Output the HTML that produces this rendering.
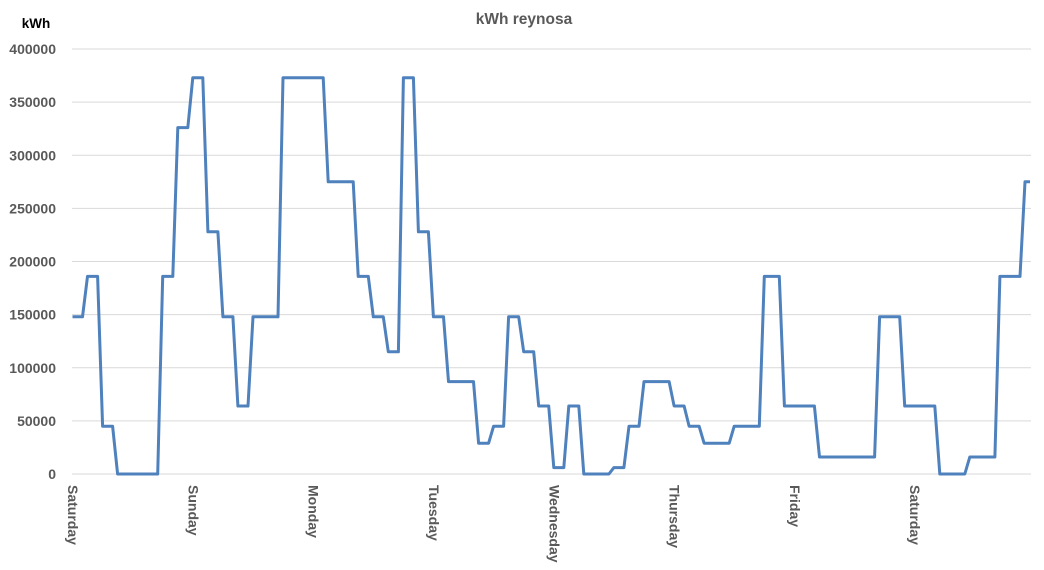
<!DOCTYPE html>
<html><head><meta charset="utf-8"><style>
html,body{margin:0;padding:0;background:#fff;}
svg{display:block;font-family:"Liberation Sans",sans-serif;}
</style></head><body>
<svg id="chart" width="1044" height="570">
<text x="524" y="24" text-anchor="middle" font-size="15.5" font-weight="bold" fill="#595959">kWh reynosa</text>
<text x="36" y="28" text-anchor="middle" font-size="13.5" font-weight="bold" fill="#000">kWh</text>
<g id="grid"></g><g id="yticks"></g><g id="xticks"></g>
<path id="line" fill="none" stroke="#4f81bd" stroke-width="3" stroke-linejoin="round"></path>
</svg>
<script>
const dayLabels=["Saturday","Sunday","Monday","Tuesday","Wednesday","Thursday","Friday","Saturday"];
const yTicks=[0,50000,100000,150000,200000,250000,300000,350000,400000];
const kwh=[148,148,148,186,186,186,45,45,45,0,0,0,0,0,0,0,0,0,186,186,186,326,326,326,373,373,373,228,228,228,148,148,148,64,64,64,148,148,148,148,148,148,373,373,373,373,373,373,373,373,373,275,275,275,275,275,275,186,186,186,148,148,148,115,115,115,373,373,373,228,228,228,148,148,148,87,87,87,87,87,87,29,29,29,45,45,45,148,148,148,115,115,115,64,64,64,6,6,6,64,64,64,0,0,0,0,0,0,6,6,6,45,45,45,87,87,87,87,87,87,64,64,64,45,45,45,29,29,29,29,29,29,45,45,45,45,45,45,186,186,186,186,64,64,64,64,64,64,64,16,16,16,16,16,16,16,16,16,16,16,16,148,148,148,148,148,64,64,64,64,64,64,64,0,0,0,0,0,0,16,16,16,16,16,16,186,186,186,186,186,275,275];
const X0=72.5,X1=1030,Y0=474,Y1=49,MAX=400000;
const xs=i=>X0+i*(X1-X0)/(kwh.length-1);
const ys=v=>Y0-(v/MAX)*(Y0-Y1);
const ns="http://www.w3.org/2000/svg";
const grid=document.getElementById('grid'),yt=document.getElementById('yticks'),xt=document.getElementById('xticks');
yTicks.forEach(v=>{
 const l=document.createElementNS(ns,'line');
 l.setAttribute('x1',72);l.setAttribute('x2',1031);l.setAttribute('y1',ys(v));l.setAttribute('y2',ys(v));
 l.setAttribute('stroke','#d9d9d9');l.setAttribute('stroke-width','1');
 
 
 grid.appendChild(l);
 const t=document.createElementNS(ns,'text');
 t.setAttribute('x',56);t.setAttribute('y',ys(v)+5);t.setAttribute('text-anchor','end');
 t.setAttribute('font-size','14');t.setAttribute('font-weight','bold');t.setAttribute('fill','#595959');
 t.textContent=v;
 
 
 yt.appendChild(t);
});
dayLabels.forEach((d,k)=>{
 const x=X0+k*24*(X1-X0)/(kwh.length-1);
 const t=document.createElementNS(ns,'text');
 t.setAttribute('transform','translate('+(x+0.5)+',485) rotate(90)');
 t.setAttribute('dominant-baseline','central');
 t.setAttribute('font-size','14');t.setAttribute('font-weight','bold');t.setAttribute('fill','#595959');
 t.textContent=d;
 
 
 xt.appendChild(t);
});
document.getElementById('line').setAttribute('d',kwh.map((v,i)=>(i?'L':'M')+xs(i).toFixed(1)+' '+ys(v*1000).toFixed(1)).join(' '));
</script>
</body></html>
